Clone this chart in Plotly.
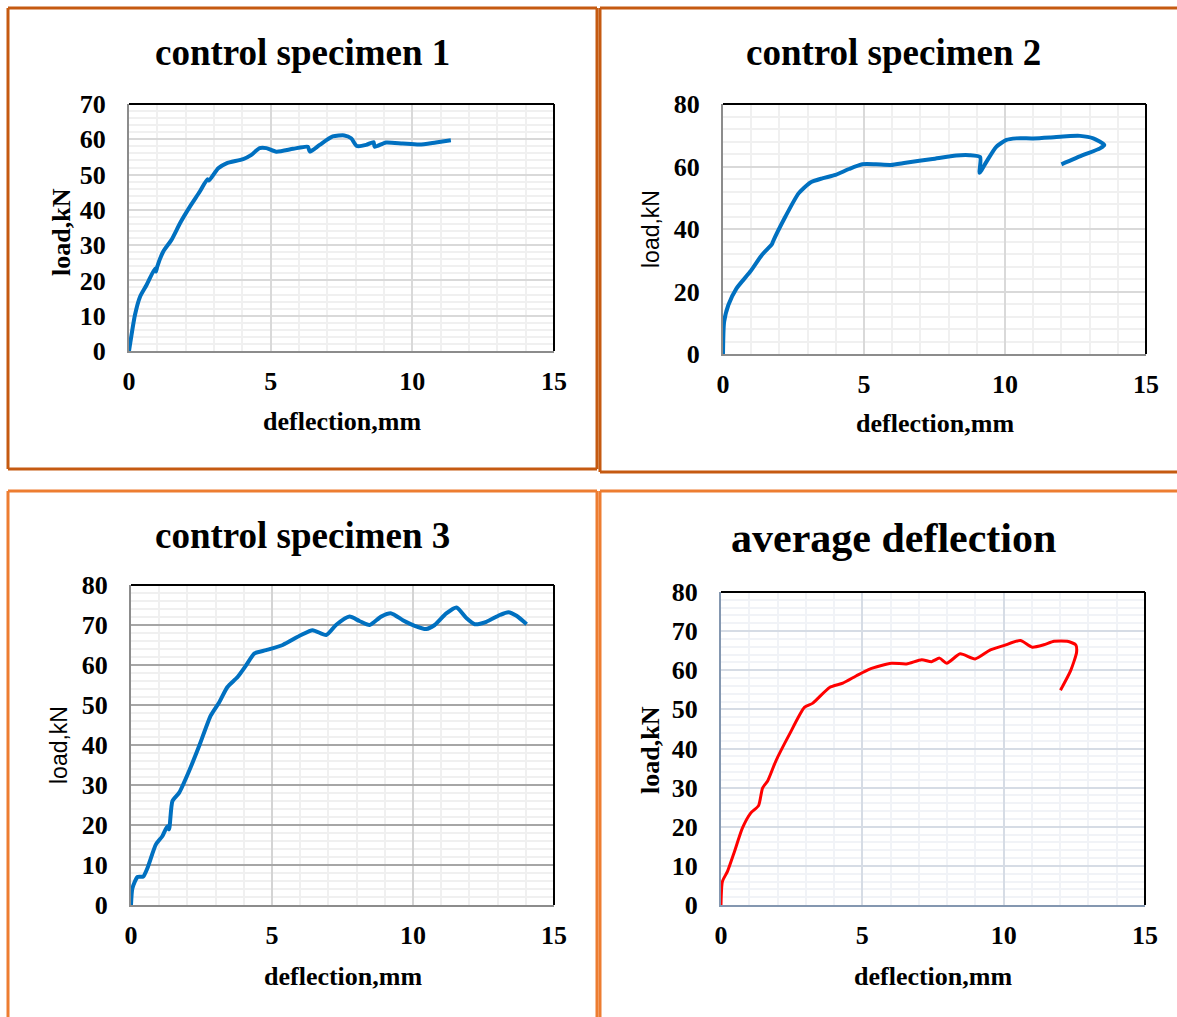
import plotly.graph_objects as go

# Load–deflection readings (deflection in mm, load in kN)
s1_defl = [0, 0.21, 0.39, 0.62, 0.92, 0.95, 1.0, 1.21, 1.5, 1.8, 2.15, 2.5, 2.77, 2.82, 3.15, 3.44,
           4.03, 4.32, 4.61, 4.85, 5.2, 5.79, 6.31, 6.38, 6.73, 7.19, 7.6, 7.84, 8.04, 8.37, 8.63,
           8.67, 9.07, 9.66, 10.25, 10.83, 11.36]
s1_load = [0, 10.2, 15.4, 18.7, 23.4, 22.5, 24.0, 28.2, 31.5, 36.2, 40.9, 45.2, 48.7, 48.3, 51.8, 53.2,
           54.4, 55.6, 57.5, 57.5, 56.5, 57.3, 57.9, 56.5, 58.4, 60.8, 61.1, 60.3, 58.1, 58.4, 59.2,
           57.9, 59.1, 58.8, 58.5, 59.1, 59.7]

s2_defl = [0, 0.04, 0.19, 0.48, 0.96, 1.38, 1.74, 1.77, 2.21, 2.68, 3.1, 3.52, 3.99, 4.47, 4.94,
           5.42, 5.95, 6.48, 7.43, 8.27, 8.74, 9.12, 9.1, 9.34, 9.69, 10.05, 10.4, 11.0, 11.59,
           12.19, 12.66, 13.13, 13.52, 13.37, 12.78, 12.0]
s2_load = [0, 10.3, 15.7, 21.0, 26.3, 31.7, 35.2, 35.9, 43.9, 51.4, 54.9, 56.2, 57.3, 59.2, 60.7,
           60.7, 60.5, 61.2, 62.4, 63.5, 63.6, 63.0, 58.0, 61.5, 66.3, 68.5, 69.0, 69.0, 69.3,
           69.7, 69.8, 69.0, 66.9, 65.8, 63.7, 60.7]

s3_defl = [0, 0.05, 0.23, 0.43, 0.58, 0.88, 1.11, 1.29, 1.35, 1.47, 1.71, 2.06, 2.42, 2.83, 3.13,
           3.42, 3.78, 4.08, 4.38, 4.79, 5.38, 6.03, 6.44, 6.92, 7.27, 7.75, 8.1, 8.46, 8.87, 9.23,
           9.64, 10.06, 10.47, 10.77, 11.18, 11.54, 11.9, 12.19, 12.6, 13.08, 13.38, 13.67, 14.03]
s3_load = [0, 4.2, 7.0, 7.1, 9.2, 15.1, 17.2, 19.7, 18.9, 26.0, 28.1, 33.5, 39.8, 47.4, 50.7,
           54.5, 57.0, 59.9, 62.9, 63.7, 65.0, 67.5, 68.7, 67.5, 70.0, 72.1, 71.0, 70.0, 72.1, 72.9,
           71.2, 69.8, 69.0, 70.0, 72.9, 74.4, 71.7, 70.2, 70.8, 72.5, 73.2, 72.3, 70.2]

avg_defl = [0, 0.05, 0.23, 0.46, 0.76, 1.05, 1.33, 1.47, 1.65, 1.94, 2.42, 2.95, 3.25, 3.84, 4.31,
            4.79, 5.26, 6.03, 6.56, 7.1, 7.45, 7.73, 7.99, 8.46, 8.99, 9.53, 10.0, 10.59, 11.01,
            11.42, 11.78, 12.25, 12.55, 12.58, 12.37, 12.01]
avg_load = [0, 6.0, 8.6, 13.3, 19.7, 23.5, 25.4, 29.9, 31.7, 36.8, 43.6, 50.5, 51.6, 55.6, 56.7,
            58.6, 60.3, 61.8, 61.6, 62.7, 62.2, 63.1, 61.8, 64.2, 62.9, 65.2, 66.3, 67.6, 65.9,
            66.5, 67.4, 67.4, 66.5, 64.6, 59.9, 54.9]

titles = ["control specimen 1", "control specimen 2", "control specimen 3", "average deflection"]
x_ticks = [0, 5, 10, 15]

W, H = 1177, 1017


def fx(px):
    return px / W


def fy(py):
    return 1 - py / H


SERIF = "Liberation Serif"
SANS = "Liberation Sans"

DARK_FRAME = "#C55A11"
LIGHT_FRAME = "#ED7D31"

panels = [
    dict(x=s1_defl, y=s1_load, color="#0070C0", width=4, box=(129, 554, 104, 351), ymax=70, dy=10,
         ymin=2, grid="#D9D9D9", hgrid="#D9D9D9", minor="#F0F0F0", axis="#8C8C8C",
         title=titles[0], tx=302, tsize=37, ty=52,
         ylab_font=dict(family=SERIF, size=26, weight="bold"),
         ylab_xy=(62, 232), xlab_y=421),
    dict(x=s2_defl, y=s2_load, color="#0070C0", width=4, box=(723, 1146, 104, 354), ymax=80, dy=20,
         ymin=4, grid="#D9D9D9", hgrid="#D9D9D9", minor="#F0F0F0", axis="#8C8C8C",
         title=titles[1], tx=893, tsize=37, ty=52,
         ylab_font=dict(family=SANS, size=23),
         ylab_xy=(651, 229), xlab_y=424),
    dict(x=s3_defl, y=s3_load, color="#0070C0", width=4, box=(131, 554, 585, 905), ymax=80, dy=10,
         ymin=2, grid="#D4D4D4", hgrid="#A6A6A6", minor="#F0F0F0", axis="#8C8C8C",
         title=titles[2], tx=302, tsize=37, ty=535,
         ylab_font=dict(family=SANS, size=23),
         ylab_xy=(59, 745), xlab_y=976),
    dict(x=avg_defl, y=avg_load, color="#FF0000", width=3, box=(721, 1145, 592, 905), ymax=80, dy=10,
         ymin=2, grid="#D6DCE5", hgrid="#D6DCE5", minor="#F1F3F7", axis="#8497B0",
         title=titles[3], tx=893, tsize=42, ty=538,
         ylab_font=dict(family=SERIF, size=26, weight="bold"),
         ylab_xy=(650, 750), xlab_y=976),
]

# Outer chart frames, only the edges that fall inside the page: (x0, y0, x1, y1, colour)
frame_edges = [
    (8, 8, 597, 8, DARK_FRAME), (8, 8, 8, 469, DARK_FRAME), (597, 8, 597, 469, DARK_FRAME),
    (8, 469, 597, 469, DARK_FRAME),
    (600, 8, 1177, 8, DARK_FRAME), (600, 8, 600, 472, DARK_FRAME), (600, 472, 1177, 472, DARK_FRAME),
    (8, 491, 597, 491, LIGHT_FRAME), (8, 491, 8, 1017, LIGHT_FRAME), (597, 491, 597, 1017, LIGHT_FRAME),
    (600, 491, 1177, 491, LIGHT_FRAME), (600, 491, 600, 1017, LIGHT_FRAME),
]

fig = go.Figure()
shapes = []
annotations = []
tick_font = dict(family=SERIF, size=26, color="black", weight="bold")

for i, p in enumerate(panels, start=1):
    xa = "x" if i == 1 else f"x{i}"
    ya = "y" if i == 1 else f"y{i}"
    x0, x1, y0, y1 = p["box"]

    fig.add_trace(go.Scatter(
        x=p["x"], y=p["y"], mode="lines", xaxis=xa, yaxis=ya, showlegend=False,
        line=dict(color=p["color"], width=p["width"], shape="spline", smoothing=0.6),
        hoverinfo="skip",
    ))

    xkey = "xaxis" if i == 1 else f"xaxis{i}"
    ykey = "yaxis" if i == 1 else f"yaxis{i}"
    fig.layout[xkey] = dict(
        domain=[fx(x0), fx(x1)], range=[0, 15], anchor=ya, tickvals=x_ticks,
        showgrid=True, gridcolor=p["grid"], gridwidth=2, zeroline=False,
        showline=True, linecolor=p["axis"], linewidth=2, automargin=False,
        tickfont=tick_font, ticks="", ticklabelstandoff=6,
        minor=dict(dtick=1, showgrid=True, gridcolor=p["minor"], gridwidth=2),
        fixedrange=True,
    )
    fig.layout[ykey] = dict(
        domain=[fy(y1), fy(y0)], range=[0, p["ymax"]], anchor=xa, dtick=p["dy"], tick0=0,
        showgrid=True, gridcolor=p["hgrid"], gridwidth=2, zeroline=False,
        showline=True, linecolor=p["axis"], linewidth=2, automargin=False,
        tickfont=tick_font, ticks="", ticklabelstandoff=16,
        minor=dict(dtick=p["ymin"], tick0=0, showgrid=True, gridcolor=p["minor"], gridwidth=2),
        fixedrange=True,
    )

    # top and right edges of the plot area
    shapes.append(dict(type="line", xref=f"{xa} domain", yref=f"{ya} domain",
                       x0=0, x1=1, y0=1, y1=1, line=dict(color="black", width=2)))
    shapes.append(dict(type="line", xref=f"{xa} domain", yref=f"{ya} domain",
                       x0=1, x1=1, y0=0, y1=1, line=dict(color="black", width=2)))

    cx = (x0 + x1) / 2
    annotations.append(dict(text=f"<b>{p['title']}</b>", xref="paper", yref="paper",
                            x=fx(p["tx"]), y=fy(p["ty"]), xanchor="center", yanchor="middle",
                            showarrow=False,
                            font=dict(family=SERIF, size=p["tsize"], color="black")))
    annotations.append(dict(text="deflection,mm", xref="paper", yref="paper",
                            x=fx(cx), y=fy(p["xlab_y"]), xanchor="center", yanchor="middle",
                            showarrow=False,
                            font=dict(family=SERIF, size=26, color="black", weight="bold")))
    lx, ly = p["ylab_xy"]
    annotations.append(dict(text="load,kN", xref="paper", yref="paper", textangle=-90,
                            x=fx(lx), y=fy(ly), xanchor="center", yanchor="middle",
                            showarrow=False, font=dict(color="black", **p["ylab_font"])))

for ex0, ey0, ex1, ey1, col in frame_edges:
    shapes.append(dict(type="line", xref="paper", yref="paper",
                       x0=fx(ex0), x1=fx(ex1), y0=fy(ey0), y1=fy(ey1),
                       line=dict(color=col, width=3)))

fig.update_layout(
    width=W, height=H, margin=dict(l=0, r=0, t=0, b=0, autoexpand=False),
    paper_bgcolor="white", plot_bgcolor="white",
    shapes=shapes, annotations=annotations,
)

fig.write_html("out.html")
